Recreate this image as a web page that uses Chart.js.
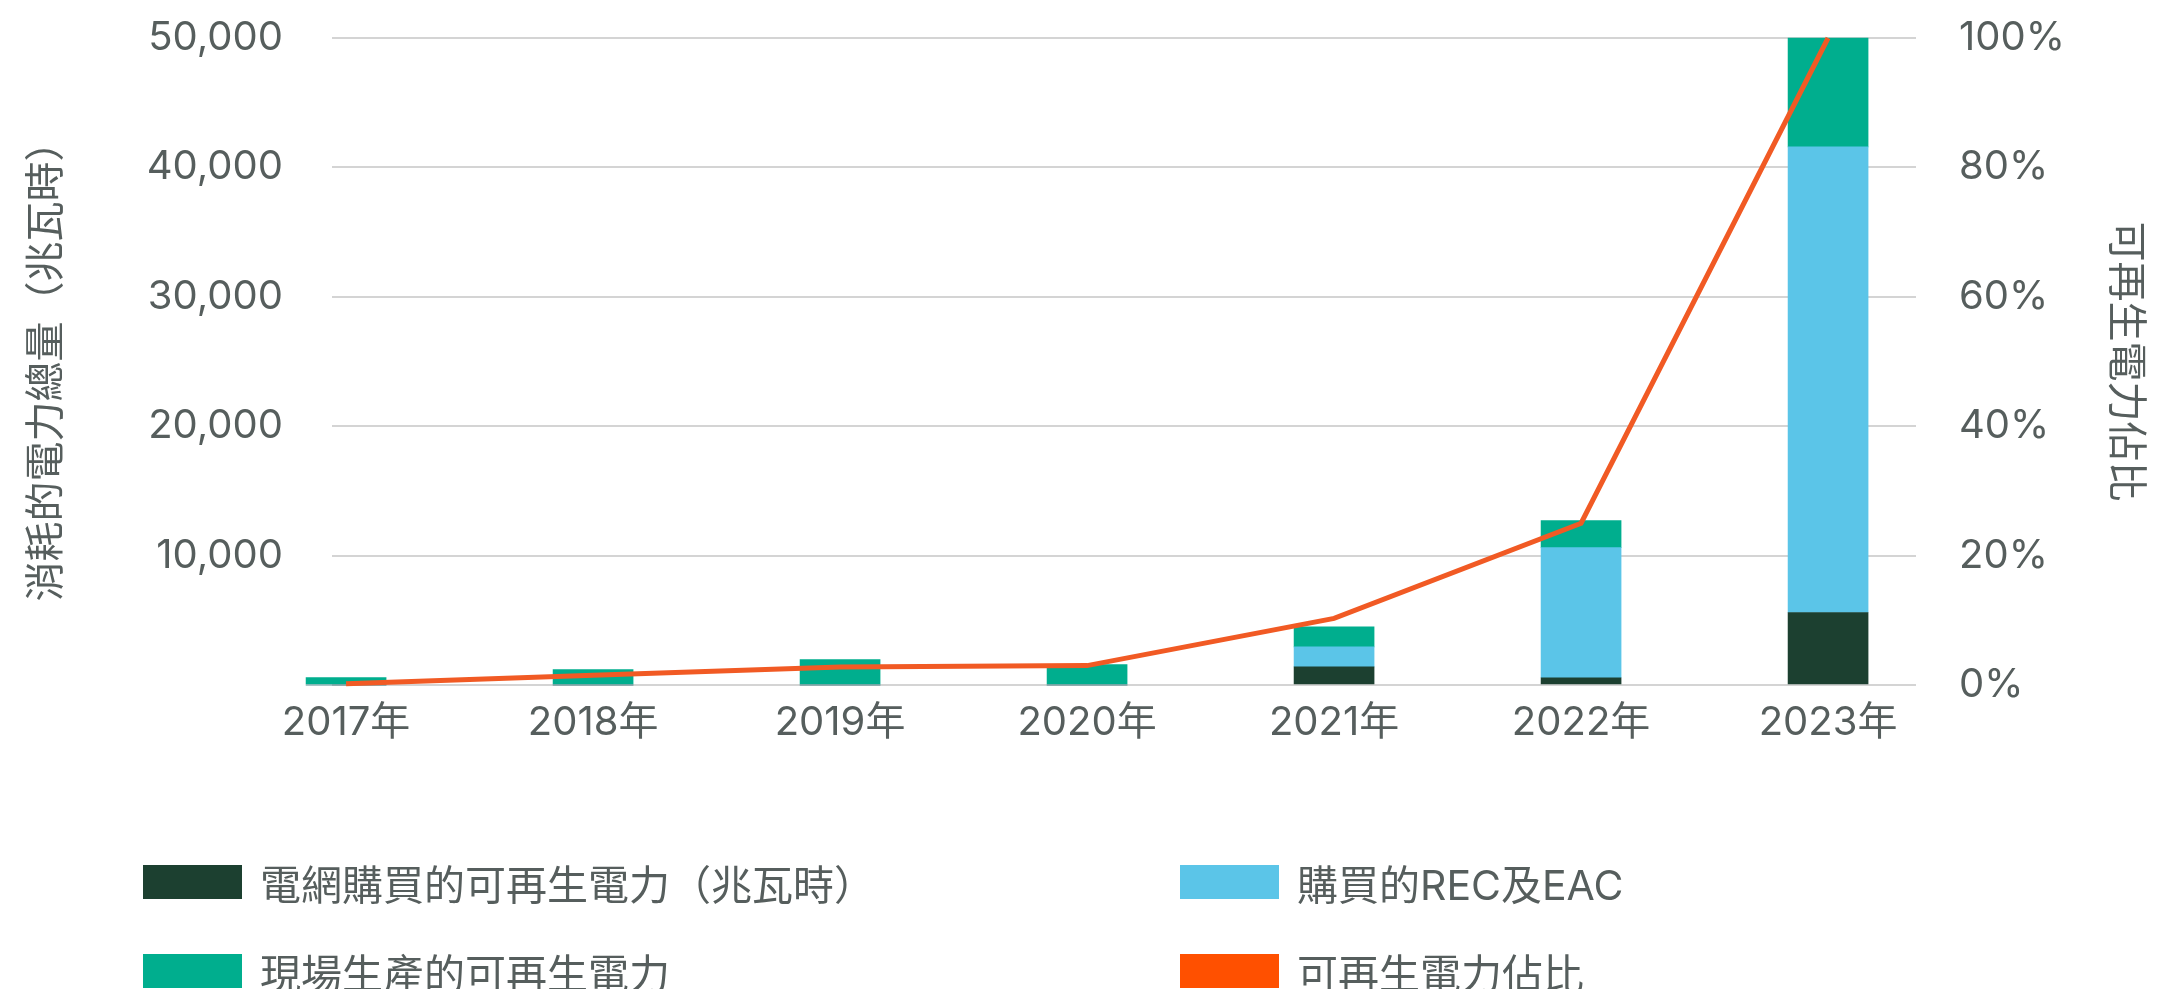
<!DOCTYPE html>
<html>
<head>
<meta charset="utf-8">
<script src="https://cdn.jsdelivr.net/npm/chart.js@4/dist/chart.umd.min.js"></script>
<style>
  html, body { margin: 0; padding: 0; background: #ffffff; overflow: hidden; }
  #wrap { position: relative; width: 2157px; height: 989px; }
  #chart { position: absolute; left: 0; top: 0; }
  #legend {
    position: absolute; left: 143px; top: 865px;
    display: grid; grid-template-columns: 1037px auto; row-gap: 55px;
    font-family: Inter, "Noto Sans CJK TC", sans-serif; font-size: 41px; color: #565e5d;
  }
  .item { display: flex; align-items: center; height: 34px; white-space: nowrap; }
  .swatch { width: 99px; height: 34px; margin-right: 18px; flex: none; }
</style>
</head>
<body>
<div id="wrap">
  <canvas id="chart" width="2157" height="989"></canvas>
  <div id="legend"></div>
</div>
<script>
// ---- data ----
const years = [2017, 2018, 2019, 2020, 2021, 2022, 2023];
const yearSuffix = '年';
const gridPurchased = [0, 0, 0, 0, 1400, 560, 5600];        // 電網購買的可再生電力（兆瓦時）
const recEac       = [0, 0, 0, 0, 1550, 10060, 35980];      // 購買的REC及EAC
const onSite       = [580, 1200, 1960, 1580, 1550, 2090, 8420]; // 現場生產的可再生電力
const renewShare   = [0.2, 1.5, 2.8, 3.0, 10.3, 25.0, 100]; // 可再生電力佔比 (%)
const leftTicks  = [0, 10000, 20000, 30000, 40000, 50000];
const rightTicks = [0, 20, 40, 60, 80, 100];

const seriesNames = ['電網購買的可再生電力（兆瓦時）', '購買的REC及EAC', '現場生產的可再生電力', '可再生電力佔比'];
const leftTitle  = '消耗的電力總量（兆瓦時）';
const rightTitle = '可再生電力佔比';

const FONT = 'Inter, "Noto Sans CJK TC", sans-serif';
const TEXT = '#565e5d';
const CLEAR = 'rgba(0,0,0,0)';

const toXY = arr => arr.map((v, i) => ({ x: years[i], y: v }));

const barCommon = { type: 'bar', yAxisID: 'y', stack: 's', barThickness: 80, order: 1, clip: false, borderWidth: 0 };

const chart = new Chart(document.getElementById('chart'), {
  type: 'bar',
  data: {
    datasets: [
      Object.assign({ label: seriesNames[0], data: toXY(gridPurchased), backgroundColor: '#1c4030' }, barCommon),
      Object.assign({ label: seriesNames[1], data: toXY(recEac), backgroundColor: '#5bc5e8' }, barCommon),
      Object.assign({ label: seriesNames[2], data: toXY(onSite), backgroundColor: '#00ae8e' }, barCommon),
      {
        type: 'line', label: seriesNames[3], data: toXY(renewShare), yAxisID: 'y1',
        borderColor: '#f15a24', backgroundColor: '#ff5000', borderWidth: 5,
        pointRadius: 0, tension: 0, order: 0, clip: false, fill: false
      }
    ]
  },
  options: {
    responsive: false,
    animation: false,
    events: [],
    layout: { padding: { top: 38, left: 0, right: 0, bottom: 229 } },
    plugins: { legend: { display: false }, tooltip: { enabled: false }, title: { display: false } },
    scales: {
      x: {
        type: 'linear',
        offset: false,
        min: 2016.943, max: 2023.356,
        stacked: true,
        grid: { display: false, drawTicks: false },
        border: { display: false },
        ticks: {
          stepSize: 1, includeBounds: false, padding: 14,
          font: { family: FONT, size: 40 }, color: TEXT,
          callback: v => v + yearSuffix
        },
        afterFit: s => { s.height = 75; }
      },
      y: {
        position: 'left', stacked: true, min: leftTicks[0], max: leftTicks[leftTicks.length - 1],
        afterBuildTicks: s => { s.ticks = leftTicks.map(v => ({ value: v })); },
        grid: { color: '#d4d4d4', lineWidth: 2, drawTicks: true, tickLength: 49, tickColor: CLEAR },
        border: { display: false },
        ticks: {
          padding: 0, font: { family: FONT, size: 40 }, color: TEXT,
          callback: v => v === 0 ? '' : v.toLocaleString('en-US')
        },
        title: { display: true, text: leftTitle, color: TEXT, font: { family: FONT, size: 40 }, padding: { top: 23, bottom: 0 } },
        afterFit: s => { s.width = 332; }
      },
      y1: {
        position: 'right', min: rightTicks[0], max: rightTicks[rightTicks.length - 1],
        afterBuildTicks: s => { s.ticks = rightTicks.map(v => ({ value: v })); },
        grid: { display: true, drawOnChartArea: false, drawTicks: true, tickLength: 43, tickColor: CLEAR },
        border: { display: false },
        ticks: {
          padding: 0, font: { family: FONT, size: 40 }, color: TEXT,
          callback: v => v + '%'
        },
        title: { display: true, text: rightTitle, color: TEXT, font: { family: FONT, size: 40 }, padding: { top: 8, bottom: 0 } },
        afterFit: s => { s.width = 241; }
      }
    }
  }
});

// HTML legend built from the chart's datasets
const legendEl = document.getElementById('legend');
chart.data.datasets.forEach(ds => {
  const item = document.createElement('div');
  item.className = 'item';
  const sw = document.createElement('span');
  sw.className = 'swatch';
  sw.style.background = ds.backgroundColor;
  const tx = document.createElement('span');
  tx.textContent = ds.label;
  item.appendChild(sw);
  item.appendChild(tx);
  legendEl.appendChild(item);
});
</script>
</body>
</html>
